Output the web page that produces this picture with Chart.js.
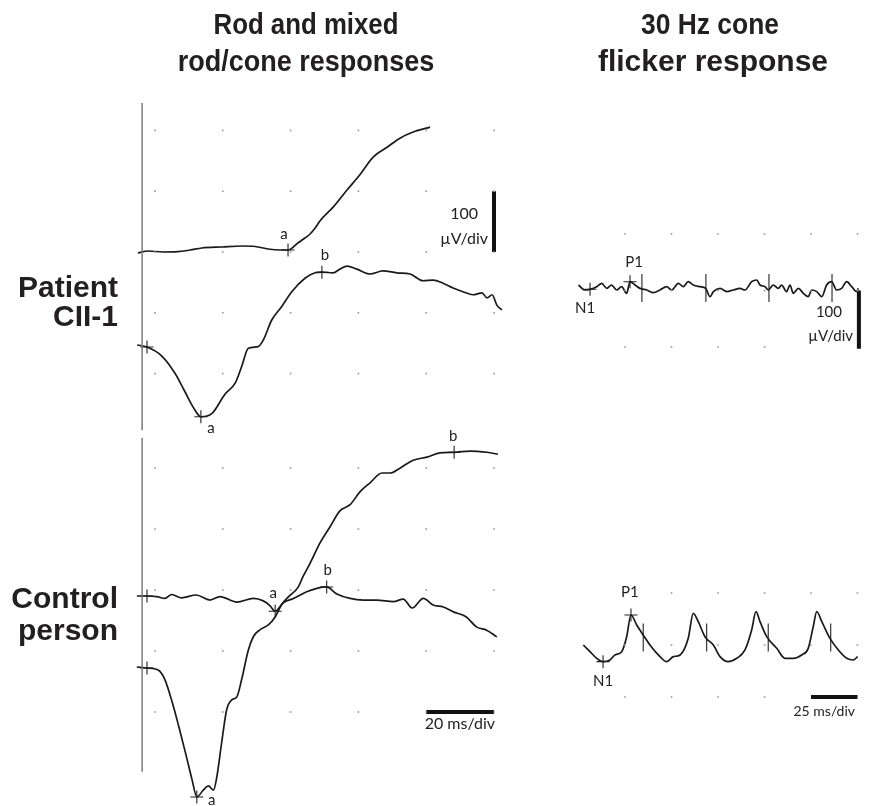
<!DOCTYPE html>
<html><head><meta charset="utf-8">
<script src="https://cdn.jsdelivr.net/npm/chart.js@4"></script>
<style>
html,body{margin:0;padding:0;background:#fff;}
#wrap{position:relative;width:871px;height:806px;overflow:hidden;background:#fff;}
#c{position:absolute;left:0;top:0;}
.t{position:absolute;font-family:"Liberation Sans",Arial,sans-serif;font-weight:bold;color:#231f20;white-space:nowrap;line-height:30px;font-size:30px;}
.h{width:400px;text-align:center;transform-origin:50% 50%;}
.r{font-size:30px;line-height:30px;text-align:right;width:200px;}
</style></head><body>
<div id="wrap">
<canvas id="c" width="871" height="806"></canvas>
<div class="t h" style="left:106px;top:9px;transform:scaleX(0.86)">Rod and mixed</div>
<div class="t h" style="left:106px;top:46px;transform:scaleX(0.9)">rod/cone responses</div>
<div class="t h" style="left:510px;top:9px;transform:scaleX(0.88)">30 Hz cone</div>
<div class="t h" style="left:513px;top:46px;transform:scaleX(1.0)">flicker response</div>
<div class="t r" style="left:-82px;top:272px">Patient</div>
<div class="t r" style="left:-82px;top:301px">CII-1</div>
<div class="t r" style="left:-82px;top:583px">Control</div>
<div class="t r" style="left:-82px;top:615px">person</div>
</div>
<script>
// ---------- data (time in ms, amplitude in µV relative to each trace's baseline) ----------
const patientRodT = [-2.7,0.3,4.7,9.1,12.7,16.2,22.1,28.0,31.9,35.7,39.2,41.6,44.5,46.6,48.1,49.6,51.0,54.9,59.0,62.8,66.7,70.8,74.6,78.5,83.5];
const patientRodV = [-3.3,0,-1.6,-1.1,1.6,4.9,6.6,8.2,7.4,3.3,1.6,1.6,13.1,21.3,27.9,37.7,49.2,72,100,125,154,170,185,195,203];

const patientMixT = [-2.9,0,4.3,8.3,11.2,13.7,15.9,19.1,23.0,26.0,27.9,29.9,32.8,34.3,36.8,39.7,42.7,46.6,49.6,51.6,54.9,56.9,59.0,61.9,65.8,69.6,73.7,77.6,81.4,84.4,87.3,90.3,93.2,96.2,98.8,100.3,101.8,103.2,104.7];
const patientMixV = [1.6,-1.6,-16,-45,-75,-101,-116,-111,-79,-61,-34,-3.8,-1.1,9.8,42.6,64.4,89,111,120,121,120,126,131,126,118,123,120,118,107,108,103,95,89,84,87,79,84,67,59];

const controlRodT = [-3.0,0,2.9,5.3,7.3,10.2,14.5,18.6,21.5,26.5,31.4,34.3,36.3,37.8,40.2,43.2,47.1,50.1,53.0,56.0,59.9,63.8,67.8,72.7,75.6,78.2,81.5,84.4,87.4,90.4,94.1,97.3,100.2,103.2];
const controlRodV = [0,0,-1,-4,2.5,-3,1.6,-6.6,-1,-10,-4,-8,-16,-25,-11,-4,7,12.6,14.8,3.3,-4,-6.6,-6.6,-9.3,-5,-19.7,-3.8,-14.8,-18,-26,-34,-51,-56,-67];

const controlMixT = [-3.0,0,3.3,5.3,7.4,9.4,11.5,13.3,14.7,16.6,18.1,19.6,20.6,22.0,23.5,25.0,26.5,27.9,29.9,31.4,33.3,35.8,37.8,39.7,41.7,44.6,46.0,48.1,51.0,54.0,56.9,59.9,62.8,65.8,69.3,71.7,74.6,78.5,82.6,86.4,90.6,95.3,100.3,103.5];
const controlMixV = [0,-1.6,-5,-21,-57,-98,-144,-185,-213,-202,-195,-202,-180,-125,-70,-54,-49,-21,28,50,61,69,82,102,115,131,148,170,203,230,256,266,287,302,318,318,326,339,344,351,352,354,352,349];

const patientFlickT = [0,3.5,6.2,9.8,12.5,15.2,17.8,20.5,23.2,25.9,27.7,30.4,33.1,36.7,40.2,43.8,47.4,50.1,53.7,56.3,59.0,61.7,65.3,68.4,70.7,72.5,76.1,79.7,83.2,86.8,89.5,93.1,95.8,97.6,100.3,102.0,104.7,107.4,109.2,111.9,113.7,115.5,118.2,120.9,123.5,125.4,128.1,130.8,133.4,136.1,138.8,141.5,144.2,146.9,149.6,150.4];
const patientFlickV = [8.8,0,1.2,5.9,11.8,2.9,8.8,0,5.9,-5.9,14.7,8.8,2.9,0,-4.7,0,5.9,0,11.8,5.9,14.7,8.8,5.9,2.9,-11.8,-2.9,2.9,-2.9,0,2.9,0,14.7,17.7,8.8,5.9,0,8.8,2.9,8.8,-2.9,8.8,-5.9,2.9,-5.9,-11.8,0,-2.9,-11.8,8.8,14.7,0,2.9,14.7,5.9,-2.9,2.9];

const controlFlickT = [2.6,6.2,9.8,13.2,16.9,19.6,23.2,25.9,28.2,31.3,34.8,38.4,43.8,47.4,51.0,54.6,59.0,61.7,64.4,68.0,72.5,76.1,80.5,85.1,89.5,93.1,95.4,97.6,101.2,106.6,111.0,115.5,120.0,123.5,126.2,128.1,130.8,135.2,139.7,144.2,147.7,150.1];
const controlFlickV = [0,-12.8,-25.6,-32,-28.8,-19.2,-12.8,16,57.7,38.5,19.2,0,-22.4,-32,-22.4,-19.2,12.8,60.9,44.9,16,0,-22.4,-32,-25.6,-9.6,28.8,64.1,44.9,16,-6.4,-25.6,-25.6,-19.2,-6.4,35.3,64.1,44.9,12.8,-9.6,-25.6,-28.8,-22.4];

// marked peaks
const patientRodMarkT = [41.6],            patientRodMarkV = [1.6],              patientRodMarkL = ['a'];
const patientMixMarkT = [0,15.9,51.6],     patientMixMarkV = [-1.6,-116,121],    patientMixMarkL = ['','a','b'];
const controlRodMarkT = [0,37.8,53.0],     controlRodMarkV = [0,-25,14.8],       controlRodMarkL = ['','a','b'];
const controlMixMarkT = [0,14.7,90.6],     controlMixMarkV = [-1.6,-213,352],    controlMixMarkL = ['','a','b'];
const patientFlickMarkT = [6.2,27.7],      patientFlickMarkV = [1.2,14.7],       patientFlickMarkL = ['N1','P1'];
const controlFlickMarkT = [13.2,28.2],     controlFlickMarkV = [-32,57.7],       controlFlickMarkL = ['N1','P1'];
// stimulus period markers (30 Hz)
const patientCycleT = [34.1,68.5,102.4,136.3], patientCycleV = [3.5,3.5,3.5,3.5];
const controlCycleT = [34.8,68.9,102.0,135.6], controlCycleV = [14.4,14.4,14.4,14.4];

// grid (in divisions) and scale bars
const gridColsL = [0,1,2,3,4,5], gridRowsL = [2,1,0,-1,-2];
const gridColsR = [0,1,2,3,4,5], gridRowsR = [1,0,-1];
const ampBarDiv = [1,0];      // 100 µV/div bar
const timeBarDiv = [4,5];     // ms/div bar

// ---------- layout (pixel mapping of each panel) ----------
const W = 871, H = 806;
function xr(o,k){return {min:-o/k, max:(W-o)/k};}
function yr(o,k){return {min:(o-H)/k, max:o/k};}
const ax = (r)=>Object.assign({type:'linear', display:false}, r);

const pts = (T,V)=>T.map((t,i)=>({x:t,y:V[i]}));
const C = '#1a1a1a';
function trace(T,V,xa,ya){return {data:pts(T,V),xAxisID:xa,yAxisID:ya,showLine:true,borderColor:C,borderWidth:1.7,pointRadius:0,cubicInterpolationMode:'monotone',fill:false};}
function marks(T,V,xa,ya){return {data:pts(T,V),xAxisID:xa,yAxisID:ya,showLine:false,pointStyle:'cross',pointRadius:6.5,pointBorderColor:'#222',pointBorderWidth:1.1,pointBackgroundColor:'#222'};}
function ticks(T,V,xa,ya){return {data:pts(T,V),xAxisID:xa,yAxisID:ya,showLine:false,pointStyle:'line',pointRotation:90,pointRadius:14,pointBorderColor:'#222',pointBorderWidth:1.1};}
function grid(cols,rows,xa,ya,skip){const d=[];rows.forEach(r=>cols.forEach(c=>{if(!skip||!skip(c,r))d.push({x:c,y:r});}));
  return {data:d,xAxisID:xa,yAxisID:ya,showLine:false,pointStyle:'rect',pointRadius:1.2,pointBackgroundColor:'#a0a0a0',pointBorderWidth:0};}
function seg(p,xa,ya,w,col){return {data:p,xAxisID:xa,yAxisID:ya,showLine:true,borderColor:col,borderWidth:w,pointRadius:0,tension:0};}

const datasets = [
  grid(gridColsL,gridRowsL,'xGL','yGT'),
  grid(gridColsL,gridRowsL,'xGL','yGB'),
  grid(gridColsR,gridRowsR,'xGR','yGTR',(c,r)=>r===-1&&c>=4),
  grid(gridColsR,gridRowsR,'xGR','yGBR',(c,r)=>(r===-1&&c>=4)||(r===1&&c===0)),
  // panel frame lines
  seg([{x:-0.19,y:2.45},{x:-0.19,y:-2.93}],'xGL','yGT',1.5,'#7a7a7a'),
  seg([{x:-0.19,y:2.49},{x:-0.19,y:-2.98}],'xGL','yGB',1.5,'#7a7a7a'),
  // scale bars
  seg([{x:5,y:ampBarDiv[0]},{x:5,y:ampBarDiv[1]}],'xGL','yGT',4,'#111'),
  seg([{x:timeBarDiv[0],y:-2},{x:timeBarDiv[1],y:-2}],'xGL','yGB',4,'#111'),
  seg([{x:5.03,y:0},{x:5.03,y:-1.03}],'xGR','yGTR',4,'#111'),
  seg([{x:timeBarDiv[0],y:-1},{x:timeBarDiv[1],y:-1}],'xGR','yGBR',4,'#111'),
  // traces
  trace(patientRodT,patientRodV,'xL','yP1'),
  trace(patientMixT,patientMixV,'xL','yP2'),
  trace(controlRodT,controlRodV,'xL','yC1'),
  trace(controlMixT,controlMixV,'xL','yC2'),
  trace(patientFlickT,patientFlickV,'xR','yPF'),
  trace(controlFlickT,controlFlickV,'xR','yCF'),
  // markers
  marks(patientRodMarkT,patientRodMarkV,'xL','yP1'),
  marks(patientMixMarkT,patientMixMarkV,'xL','yP2'),
  marks(controlRodMarkT,controlRodMarkV,'xL','yC1'),
  marks(controlMixMarkT,controlMixMarkV,'xL','yC2'),
  marks(patientFlickMarkT,patientFlickMarkV,'xR','yPF'),
  marks(controlFlickMarkT,controlFlickMarkV,'xR','yCF'),
  ticks(patientCycleT,patientCycleV,'xR','yPF'),
  ticks(controlCycleT,controlCycleV,'xR','yCF')
];

// label placement offsets (px) relative to each marker
const labelSets = [
  [patientRodMarkT,patientRodMarkV,patientRodMarkL,'xL','yP1',[[-4,-16]]],
  [patientMixMarkT,patientMixMarkV,patientMixMarkL,'xL','yP2',[null,[10,11],[3,-17]]],
  [controlRodMarkT,controlRodMarkV,controlRodMarkL,'xL','yC1',[null,[-2,-18],[1,-17]]],
  [controlMixMarkT,controlMixMarkV,controlMixMarkL,'xL','yC2',[null,[15,3],[-1,-16]]],
  [patientFlickMarkT,patientFlickMarkV,patientFlickMarkL,'xR','yPF',[[-5,19],[4,-20]]],
  [controlFlickMarkT,controlFlickMarkV,controlFlickMarkL,'xR','yCF',[[0,20],[-1,-23]]]
];
const fixedTexts = [
  ['100',478,214,16],['µV/div',488,239,16],['20 ms/div',495,724,16],
  ['100',842,312,15],['µV/div',853,336,15],['25 ms/div',855,711,14]
];

const labelPlugin = {
  id:'labels',
  afterDatasetsDraw(chart){
    const ctx = chart.ctx; ctx.save();
    ctx.fillStyle = '#222'; ctx.textBaseline = 'middle';
    labelSets.forEach(([T,V,L,xa,ya,off])=>{
      const sx = chart.scales[xa], sy = chart.scales[ya];
      T.forEach((t,i)=>{
        if(!L[i]) return;
        ctx.font = '15px Lato, "DejaVu Sans", sans-serif'; ctx.textAlign = 'center';
        ctx.fillText(L[i], sx.getPixelForValue(t)+off[i][0], sy.getPixelForValue(V[i])+off[i][1]);
      });
    });
    ctx.textAlign = 'right';
    fixedTexts.forEach(([s,x,y,f])=>{ ctx.font = f+'px Lato, "DejaVu Sans", sans-serif'; ctx.fillText(s,x,y); });
    ctx.restore();
  }
};

new Chart(document.getElementById('c'), {
  type:'scatter',
  data:{datasets},
  options:{
    responsive:false, animation:false, devicePixelRatio:1,
    layout:{padding:0, autoPadding:false},
    plugins:{legend:{display:false},tooltip:{enabled:false},title:{display:false}},
    scales:{
      xL: ax(xr(147,3.39)),  xR: ax(xr(578.5,1.86)),
      xGL: ax(xr(155,67.8)), xGR: ax(xr(625,46.5)),
      yP1: ax(yr(251,0.61)), yP2: ax(yr(346,0.61)),
      yC1: ax(yr(596,0.61)), yC2: ax(yr(667,0.61)),
      yPF: ax(yr(290,0.565)), yCF: ax(yr(645,0.52)),
      yGT: ax(yr(252,60.8)), yGB: ax(yr(590,61)),
      yGTR: ax(yr(290.5,56.5)), yGBR: ax(yr(645,52))
    }
  },
  plugins:[labelPlugin]
});
</script>
</body></html>
